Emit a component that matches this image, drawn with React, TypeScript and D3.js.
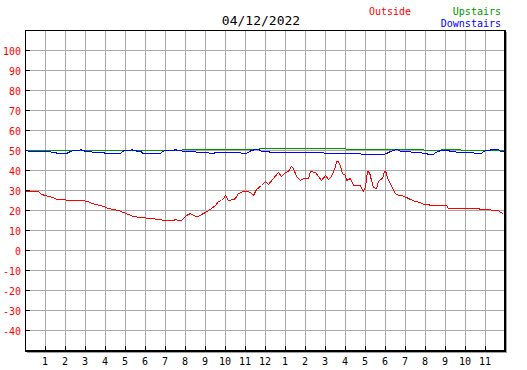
import React from "react";
import * as d3 from "d3";

const W = 527;
const H = 370;
const PLOT = { left: 25, top: 30, right: 505, bottom: 350 };

const title = "04/12/2022";

// y axis ticks (degrees)
const yTicks = [100, 90, 80, 70, 60, 50, 40, 30, 20, 10, 0, -10, -20, -30, -40];
// x axis: hour marks 1..23, labelled on a 12h clock
const hourTicks = d3.range(1, 24);
const hourLabels = ["1", "2", "3", "4", "5", "6", "7", "8", "9", "10", "11", "12",
  "1", "2", "3", "4", "5", "6", "7", "8", "9", "10", "11"];

// [time, temperature]
const outside: [string, number][] = [
  ["00:00", 29.3], ["00:39", 29.3], ["00:48", 28], ["01:00", 27.5], ["01:09", 27],
  ["01:24", 26.3], ["01:33", 25.7], ["01:45", 25.3], ["02:18", 25.2], ["02:48", 24.8],
  ["03:09", 24.3], ["03:18", 23.7], ["03:33", 22.8], ["03:54", 21.8], ["04:09", 21.2],
  ["04:24", 20.5], ["04:39", 19.8], ["04:54", 18.8], ["05:09", 18], ["05:24", 17.2],
  ["05:45", 16.5], ["06:15", 16], ["06:39", 15.5], ["07:00", 15.2], ["07:24", 15.2],
  ["07:30", 15.6], ["07:39", 15.2], ["07:48", 15.2], ["07:54", 16], ["08:03", 17.3],
  ["08:15", 18.3], ["08:30", 16.8], ["08:39", 17], ["08:48", 18], ["09:00", 19],
  ["09:09", 20.2], ["09:18", 21], ["09:30", 22.7], ["09:39", 24.3], ["09:48", 25.2],
  ["09:54", 26], ["10:00", 27.5], ["10:09", 25.2], ["10:24", 25.5], ["10:30", 26],
  ["10:39", 28.7], ["10:54", 29.5], ["11:09", 29.5], ["11:18", 28.5], ["11:24", 27.7],
  ["11:33", 30.3], ["11:48", 32.7], ["12:00", 34.3], ["12:09", 33.2], ["12:24", 36],
  ["12:39", 38.8], ["12:48", 37], ["13:00", 39], ["13:09", 39.3], ["13:18", 42.2],
  ["13:24", 41], ["13:33", 37], ["13:45", 34.8], ["13:54", 36], ["14:09", 36],
  ["14:15", 39.3], ["14:30", 38.8], ["14:39", 37], ["14:48", 35.2], ["15:00", 37.5],
  ["15:09", 35.7], ["15:18", 36.8], ["15:30", 41.8], ["15:33", 44.7], ["15:39", 44.3],
  ["15:45", 41.8], ["15:51", 38.5], ["16:00", 37.7], ["16:03", 35.2], ["16:15", 36],
  ["16:24", 32.7], ["16:33", 32.3], ["16:45", 32.3], ["16:48", 31], ["16:54", 29.3],
  ["17:00", 31.8], ["17:06", 39.3], ["17:12", 39], ["17:18", 35.2], ["17:24", 31.3],
  ["17:33", 31], ["17:39", 34.3], ["17:45", 35.7], ["17:51", 36], ["17:57", 39.3],
  ["18:03", 39], ["18:06", 36], ["18:15", 33.5], ["18:21", 31], ["18:30", 28.5],
  ["18:39", 27.7], ["18:48", 27.3], ["19:03", 26.3], ["19:15", 25.5], ["19:30", 24.7],
  ["19:45", 24], ["19:54", 23], ["20:09", 23], ["20:15", 22.3], ["21:03", 22.3],
  ["21:09", 21], ["22:39", 21], ["22:45", 20.5], ["23:15", 20.5], ["23:18", 19.8],
  ["23:39", 19.8], ["23:45", 19], ["23:54", 18.5],
];

const upstairs: [string, number][] = [
  ["00:00", 50], ["07:48", 50], ["07:51", 50.5], ["11:39", 50.5], ["11:42", 51],
  ["14:54", 51], ["14:57", 50.8], ["16:00", 50.8], ["16:03", 50.5], ["19:54", 50.5],
  ["19:57", 50], ["20:45", 50], ["20:48", 50.5], ["21:45", 50.5], ["21:48", 50],
  ["23:54", 50],
];

const downstairs: [string, number][] = [
  ["00:00", 50], ["00:15", 49.5], ["01:00", 49.3], ["01:30", 48.8], ["01:36", 48.5],
  ["02:03", 48.5], ["02:15", 49.5], ["02:24", 50], ["02:42", 50], ["02:45", 50.5],
  ["02:51", 50], ["03:03", 49.5], ["03:18", 49.5], ["03:21", 49], ["03:54", 49],
  ["04:00", 48.5], ["04:45", 48.5], ["04:51", 49.5], ["04:57", 50], ["05:15", 50],
  ["05:18", 50.4], ["05:24", 50], ["05:30", 50], ["05:36", 49.5], ["05:48", 49.5],
  ["05:51", 48.5], ["06:45", 48.5], ["06:51", 49.5], ["07:00", 50], ["07:24", 50],
  ["07:30", 50.5], ["07:36", 50], ["07:48", 50], ["07:51", 49.5], ["08:30", 49.5],
  ["08:33", 49], ["09:09", 49], ["09:12", 48.5], ["09:24", 48.5], ["09:30", 49],
  ["10:45", 49], ["10:48", 48.5], ["11:03", 48.5], ["11:12", 49.3], ["11:18", 50],
  ["11:30", 50.5], ["11:39", 50.5], ["11:45", 50], ["11:48", 49.5], ["12:09", 49.5],
  ["12:15", 49], ["14:54", 49], ["14:57", 48.5], ["16:45", 48.5], ["16:48", 47.8],
  ["17:54", 47.8], ["18:03", 48.5], ["18:15", 49.5], ["18:24", 50], ["18:33", 50.3],
  ["18:42", 50], ["18:45", 49.5], ["19:15", 49.5], ["19:18", 49], ["19:48", 49],
  ["19:51", 48.5], ["20:03", 48.5], ["20:09", 47.8], ["20:24", 47.8], ["20:30", 49],
  ["20:39", 49.5], ["20:45", 50], ["21:09", 50], ["21:15", 49.5], ["21:30", 49.5],
  ["21:33", 49], ["22:24", 49], ["22:27", 48.5], ["22:48", 48.5], ["22:54", 49.5],
  ["23:03", 50], ["23:12", 50], ["23:18", 50.4], ["23:39", 50.4], ["23:45", 49.5],
  ["23:54", 49.5],
];

const series = [
  { name: "Outside", color: "#ff0000", data: outside },
  { name: "Upstairs", color: "#009600", data: upstairs },
  { name: "Downstairs", color: "#0000ff", data: downstairs },
];

const FONT = "'DejaVu Sans Mono', monospace";
const GRID = "#a8a8a8";

const toMinutes = (t: string) => {
  const [h, m] = t.split(":").map(Number);
  return h * 60 + m;
};

export default function App() {
  const x = d3.scaleLinear().domain([0, 1440]).range([PLOT.left, PLOT.right]);
  const y = d3.scaleLinear().domain([-50, 110]).range([PLOT.bottom, PLOT.top]);

  const line = d3
    .line<[string, number]>()
    .x((d) => x(toMinutes(d[0])) + 0.5)
    .y((d) => Math.round(y(d[1])) + 0.5);

  return (
    <svg
      width={W}
      height={H}
      style={{ position: "absolute", left: 0, top: 0, background: "#fff" }}
      fontFamily={FONT}
    >
      <rect x={0} y={0} width={W} height={H} fill="#fff" />

      {/* title + legend */}
      <text x={261} y={25} textAnchor="middle" fontSize={13} fill="#000">
        {title}
      </text>
      <text x={369} y={15} fontSize={10} fill={series[0].color}>
        {series[0].name}
      </text>
      <text x={501} y={15} textAnchor="end" fontSize={10} fill={series[1].color}>
        {series[1].name}
      </text>
      <text x={501} y={27} textAnchor="end" fontSize={10} fill={series[2].color}>
        {series[2].name}
      </text>

      {/* grid */}
      <g stroke={GRID} strokeWidth={1} shapeRendering="crispEdges">
        {yTicks.map((v) => (
          <line key={`h${v}`} x1={PLOT.left} x2={PLOT.right - 1} y1={y(v) + 0.5} y2={y(v) + 0.5} />
        ))}
        {hourTicks.map((h) => (
          <line key={`v${h}`} x1={x(h * 60) + 0.5} x2={x(h * 60) + 0.5} y1={PLOT.top} y2={PLOT.bottom} />
        ))}
      </g>

      {/* ticks */}
      <g stroke="#000" strokeWidth={1} shapeRendering="crispEdges">
        {yTicks.map((v) => (
          <line key={`yt${v}`} x1={PLOT.left} x2={PLOT.left + 5} y1={y(v) + 0.5} y2={y(v) + 0.5} />
        ))}
        {hourTicks.map((h) => (
          <line key={`xt${h}`} x1={x(h * 60) + 0.5} x2={x(h * 60) + 0.5} y1={PLOT.bottom - 4} y2={PLOT.bottom} />
        ))}
      </g>

      {/* y labels */}
      {yTicks.map((v) => (
        <text key={`yl${v}`} x={21} y={y(v) + 4.5} textAnchor="end" fontSize={10} fill="#ff0000">
          {v}
        </text>
      ))}

      {/* x labels */}
      {hourTicks.map((h, i) => (
        <text key={`xl${h}`} x={x(h * 60)} y={365} textAnchor="middle" fontSize={10} fill="#000">
          {hourLabels[i]}
        </text>
      ))}

      {/* data */}
      <g fill="none" strokeWidth={1} shapeRendering="crispEdges">
        {series.map((s) => (
          <path key={s.name} d={line(s.data) ?? ""} stroke={s.color} />
        ))}
      </g>

      {/* frame with shadow */}
      <g shapeRendering="crispEdges">
        <line x1={PLOT.right + 1.5} x2={PLOT.right + 1.5} y1={PLOT.top + 2} y2={PLOT.bottom + 3} stroke="#a0a0a0" />
        <line x1={PLOT.left + 2} x2={PLOT.right + 2} y1={PLOT.bottom + 2.5} y2={PLOT.bottom + 2.5} stroke="#a0a0a0" />
        <line x1={PLOT.left + 0.5} x2={PLOT.left + 0.5} y1={PLOT.top} y2={PLOT.bottom + 2} stroke="#000" />
        <line x1={PLOT.left} x2={PLOT.right + 1} y1={PLOT.top + 0.5} y2={PLOT.top + 0.5} stroke="#000" />
        <line x1={PLOT.right} x2={PLOT.right} y1={PLOT.top} y2={PLOT.bottom + 2} stroke="#000" strokeWidth={2} />
        <line x1={PLOT.left} x2={PLOT.right + 1} y1={PLOT.bottom + 1} y2={PLOT.bottom + 1} stroke="#000" strokeWidth={2} />
      </g>
    </svg>
  );
}
